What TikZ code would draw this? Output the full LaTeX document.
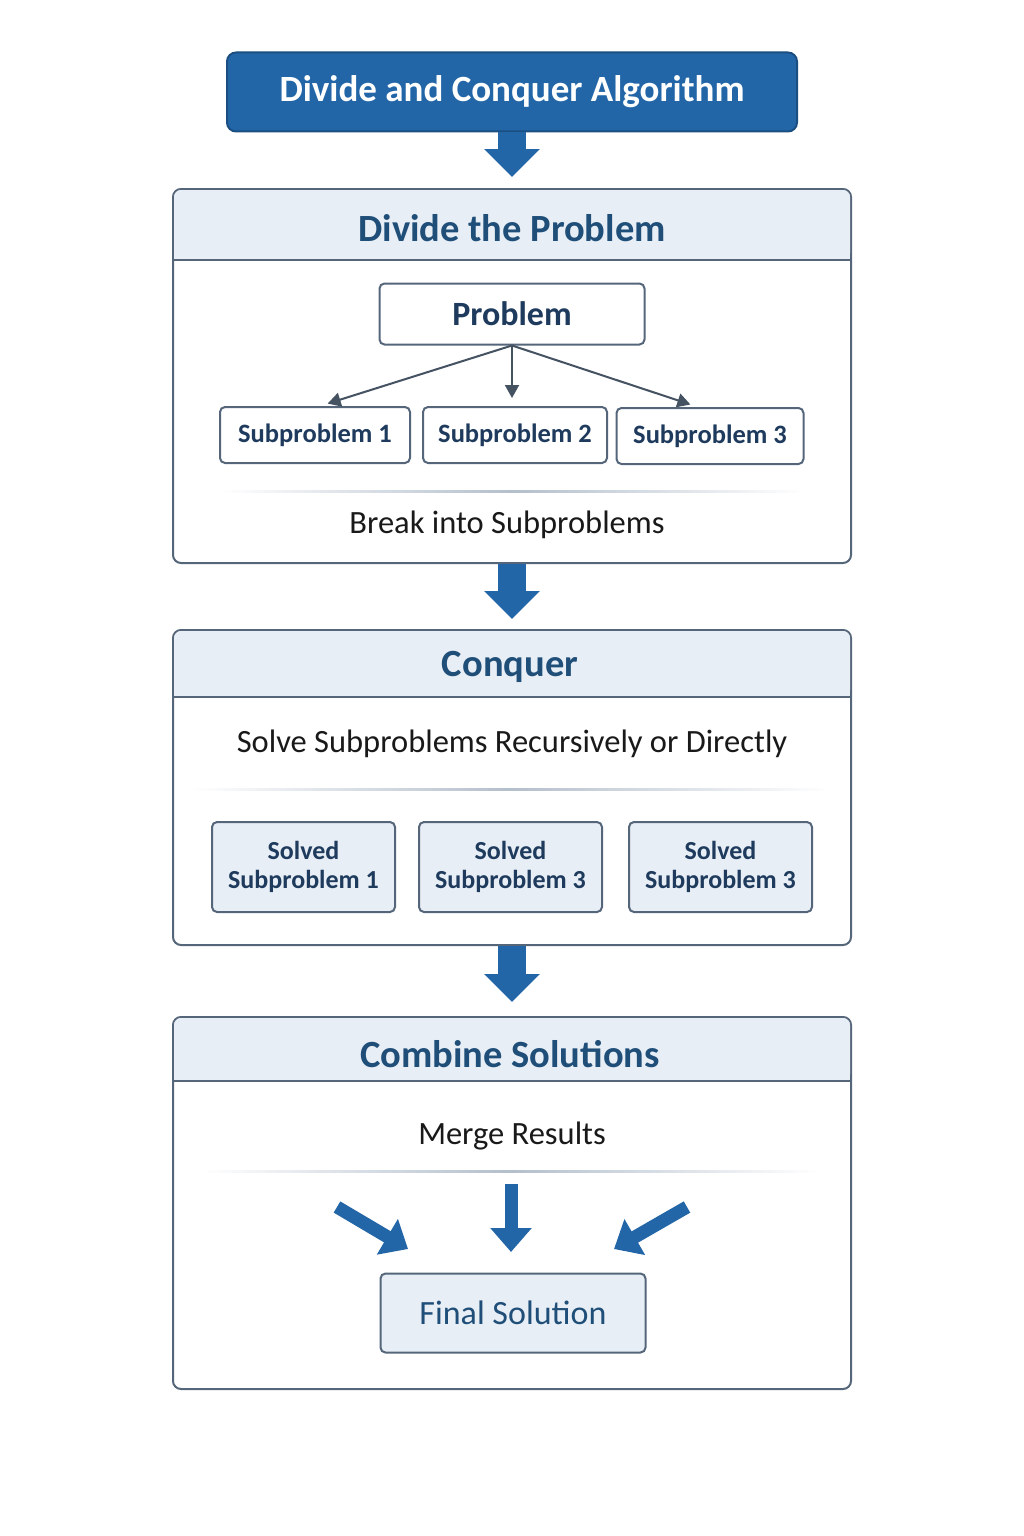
\documentclass[tikz,border=0pt]{standalone}
\usepackage{fontspec}
\setmainfont{Carlito}
\usetikzlibrary{arrows.meta}

\definecolor{titleblue}{HTML}{2366A8}
\definecolor{titleedge}{HTML}{1B4F82}
\definecolor{headfill}{HTML}{E8EEF5}
\definecolor{headblue}{HTML}{1F4E79}
\definecolor{boxtext}{HTML}{1E3A5C}
\definecolor{edgegray}{HTML}{56667A}
\definecolor{rulegray}{HTML}{B4BFCC}

\tikzset{
  titlebox/.style={draw=titleedge, line width=2pt, fill=titleblue, rounded corners=9pt,
    minimum width=570pt, minimum height=79pt, text=white,
    font=\bfseries\fontsize{37}{42}\selectfont},
  panel/.style={draw=edgegray, line width=2pt, fill=white, rounded corners=8pt,
    minimum width=678pt},
  headtext/.style={text=headblue, font=\bfseries\fontsize{38.5}{44}\selectfont},
  bodytext/.style={text=black!90, font=\fontsize{32.5}{38}\selectfont},
  probbox/.style={draw=edgegray, line width=2pt, fill=white, rounded corners=5pt,
    minimum width=265pt, minimum height=61pt, text=boxtext,
    font=\bfseries\fontsize{34}{38}\selectfont},
  subbox/.style={draw=edgegray, line width=2pt, fill=white, rounded corners=5pt,
    minimum height=56pt, text=boxtext, font=\bfseries\fontsize{26.5}{30}\selectfont},
  solvedbox/.style={draw=edgegray, line width=2pt, fill=headfill, rounded corners=5pt,
    minimum width=183pt, minimum height=90pt, align=center, text=boxtext,
    font=\bfseries\fontsize{26}{29}\selectfont},
  finalbox/.style={draw=edgegray, line width=2pt, fill=headfill, rounded corners=5pt,
    minimum width=265pt, minimum height=79pt, text=headblue,
    font=\fontsize{34}{38}\selectfont},
  split/.style={draw=edgegray!80!black, line width=2pt,
    -{Triangle[length=13pt,width=14pt]}, shorten >=8pt},
  stagearrow/.style={draw=titleblue, line width=28pt,
    -{Triangle[length=28pt,width=54pt]}},
  mergearrow/.style={draw=titleblue, line width=13pt,
    -{Triangle[length=24pt,width=40pt]}}
}

\begin{document}
\begin{tikzpicture}[x=1pt, y=-1pt]
\useasboundingbox[fill=white] (0,0) rectangle (1024,1536);

\node[titlebox] (title) at (512,92) {Divide and Conquer Algorithm};

% divide
\node[panel, minimum height=374pt] (divide) at (512,376) {};
\fill[headfill, rounded corners=7pt] (174,190) rectangle (850,260);
\fill[headfill] (174,230) rectangle (850,260);
\draw[edgegray, line width=1.5pt] (173,260) -- (851,260);
\node[headtext] (dividehead) at (512,228) {Divide the Problem};
\node[probbox] (prob) at (512,314) {Problem};
\node[subbox, minimum width=190pt] (sub1) at (315,435) {Subproblem 1};
\node[subbox, minimum width=184pt] (sub2) at (515,435) {Subproblem 2};
\node[subbox, minimum width=187pt] (sub3) at (710,436) {Subproblem 3};
\draw[split] (prob.south) -- ([xshift=5pt]sub1.north);
\draw[split] (prob.south) -- (prob.south |- sub2.north);
\draw[split] (prob.south) -- ([xshift=-12pt]sub3.north);
\shade[left color=white, right color=white, middle color=rulegray] (220,490) rectangle (805,492);
\node[bodytext] (breaktxt) at (507,525) {Break into Subproblems};

% conquer
\node[panel, minimum height=315pt] (conquer) at (512,787.5) {};
\fill[headfill, rounded corners=7pt] (174,631) rectangle (850,697);
\fill[headfill] (174,670) rectangle (850,697);
\draw[edgegray, line width=1.5pt] (173,697) -- (851,697);
\node[headtext] (conquerhead) at (510,667) {Conquer};
\node[bodytext] (solvetxt) at (512,744) {Solve Subproblems Recursively or Directly};
\shade[left color=white, right color=white, middle color=rulegray] (190,788) rectangle (830,790);
\node[solvedbox] (solved1) at (303.5,867) {Solved\\Subproblem 1};
\node[solvedbox] (solved2) at (510.5,867) {Solved\\Subproblem 3};
\node[solvedbox] (solved3) at (720.5,867) {Solved\\Subproblem 3};

% combine
\node[panel, minimum height=372pt] (combine) at (512,1203) {};
\fill[headfill, rounded corners=7pt] (174,1018) rectangle (850,1081);
\fill[headfill] (174,1050) rectangle (850,1081);
\draw[edgegray, line width=1.5pt] (173,1081) -- (851,1081);
\node[headtext] (combinehead) at (510,1054) {Combine Solutions};
\node[bodytext] (mergetxt) at (512,1136) {Merge Results};
\shade[left color=white, right color=white, middle color=rulegray] (200,1170) rectangle (820,1172);
\node[finalbox] (final) at (513,1313) {Final Solution};

\coordinate (leftin) at (337,1207);
\coordinate (leftout) at (408,1249);
\coordinate (midin) at (511,1184);
\coordinate (midout) at (511,1252);
\coordinate (rightin) at (687,1207);
\coordinate (rightout) at (614,1249);
\draw[mergearrow] (leftin) -- (leftout);
\draw[mergearrow] (midin) -- (midout);
\draw[mergearrow] (rightin) -- (rightout);

\draw[stagearrow, shorten >=11pt] (title.south) -- (divide.north);
\draw[stagearrow, shorten >=10pt] (divide.south) -- (conquer.north);
\draw[stagearrow, shorten >=14pt] (conquer.south) -- (combine.north);
\end{tikzpicture}
\end{document}
